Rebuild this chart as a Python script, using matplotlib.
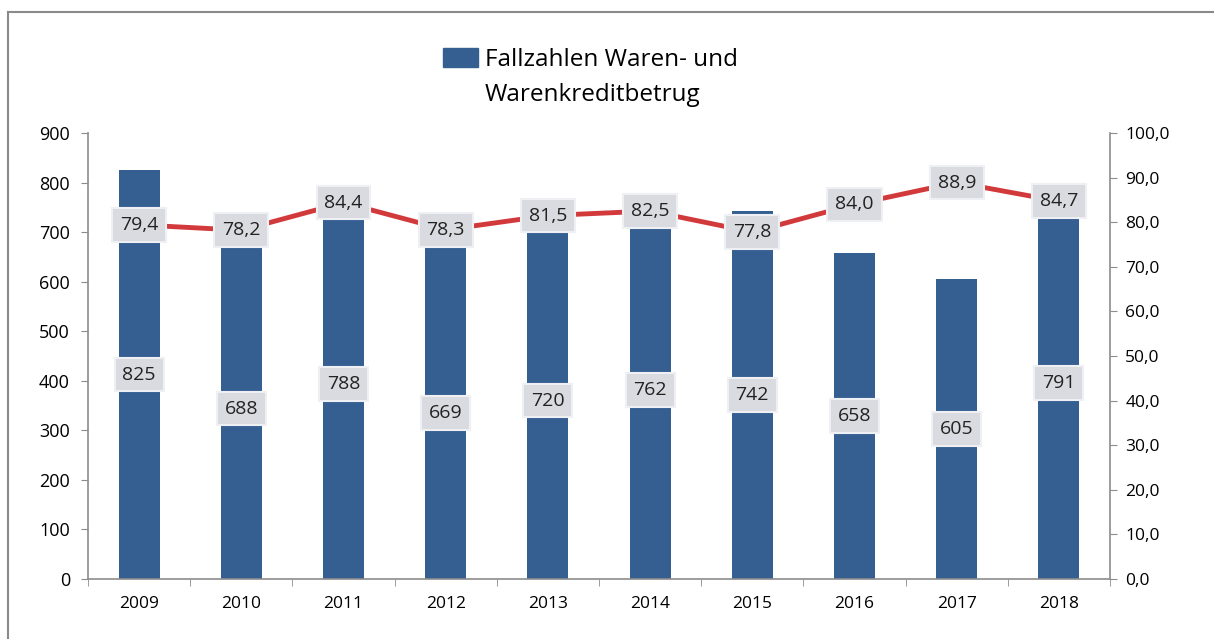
import matplotlib.pyplot as plt
from matplotlib.lines import Line2D
from matplotlib.patches import Patch
import numpy as np

years = ['2009', '2010', '2011', '2012', '2013', '2014', '2015', '2016', '2017', '2018']
cases = [825, 688, 788, 669, 720, 762, 742, 658, 605, 791]
clearance = [79.4, 78.2, 84.4, 78.3, 81.5, 82.5, 77.8, 84.0, 88.9, 84.7]

bar_color = '#365f91'
line_color = '#d2393b'
axis_grey = '#8c8c8c'
box_style = dict(boxstyle='square,pad=0.4', facecolor='#d9dbe0', edgecolor='#eef0f4', linewidth=1.5)

plt.rcParams['font.family'] = ['Open Sans', 'DejaVu Sans']


def de(v, digits):
    return f"{v:.{digits}f}".replace('.', ',')


fig = plt.figure(figsize=(12.14, 6.39), dpi=100)
ax = fig.add_axes([88 / 1214, 60 / 639, (1110 - 88) / 1214, (579 - 133) / 639])
ax2 = ax.twinx()

x = np.arange(len(years))
ax.bar(x, cases, width=0.4, color=bar_color, zorder=2)
for xi, v in zip(x, cases):
    ax.text(xi, v / 2, str(v), ha='center', va='center', fontsize=14,
            color='#222222', bbox=box_style, zorder=5)

ax2.plot(x, clearance, color=line_color, linewidth=3.5, zorder=3)
for xi, v in zip(x, clearance):
    ax2.text(xi, v, de(v, 1), ha='center', va='center', fontsize=14,
             color='#222222', bbox=box_style, zorder=6)

ax.set_xlim(-0.5, len(years) - 0.5)
ax.set_ylim(0, 900)
ax.set_yticks(range(0, 901, 100))
ax2.set_ylim(0, 100)
ax2.set_yticks(range(0, 101, 10))
ax2.set_yticklabels([de(t, 1) for t in range(0, 101, 10)])

ax.set_xticks(x)
ax.set_xticklabels(years)
ax.set_xticks(np.arange(-0.5, len(years)), minor=True)
ax.tick_params(axis='x', which='major', length=0, pad=12, labelsize=12.5)
ax.tick_params(axis='x', which='minor', length=5, color=axis_grey, direction='out')
ax.tick_params(axis='y', length=5, color=axis_grey, labelsize=13, pad=8)
ax2.tick_params(axis='y', length=5, color=axis_grey, labelsize=12.5, pad=6)

for a in (ax, ax2):
    a.spines['top'].set_visible(False)
    for s in ('left', 'right', 'bottom'):
        a.spines[s].set_color(axis_grey)
        a.spines[s].set_linewidth(1.2)
ax.spines['right'].set_visible(False)
ax2.spines['left'].set_visible(False)
ax2.spines['bottom'].set_visible(False)

ax.set_zorder(ax2.get_zorder() - 1)
ax2.patch.set_visible(False)

# legend: swatch beside the first line, second line wraps below like Excel
fig.legend(handles=[Patch(color=bar_color)],
           labels=['Fallzahlen Waren- und'],
           loc='center left', bbox_to_anchor=(443 / 1214, 1 - 60 / 639),
           frameon=False, fontsize=17.5, handlelength=1.45, handleheight=0.8,
           handletextpad=0.29, borderpad=0, borderaxespad=0)
fig.text(485 / 1214, 1 - 95 / 639, 'Warenkreditbetrug', fontsize=17.5,
         ha='left', va='center', color='black')

fig.add_artist(Line2D([8 / 1214, 8 / 1214], [0, 1 - 12 / 639], color='#8a8a8a',
                      linewidth=1.5, transform=fig.transFigure))
fig.add_artist(Line2D([8 / 1214, 1], [1 - 12 / 639, 1 - 12 / 639], color='#8a8a8a',
                      linewidth=1.5, transform=fig.transFigure))

fig.savefig('out.png', dpi=100)
